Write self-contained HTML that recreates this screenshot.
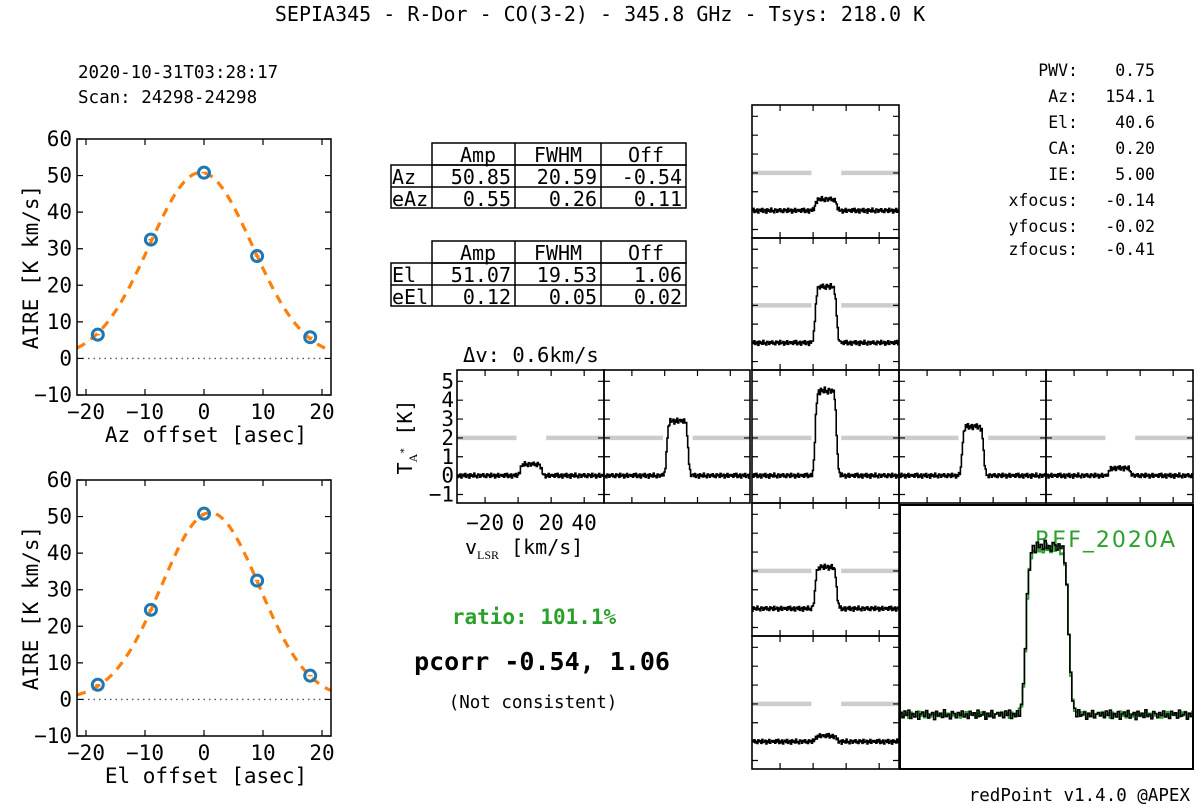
<!DOCTYPE html>
<html><head><meta charset="utf-8"><style>
html,body{margin:0;padding:0;background:#fff}
svg{display:block}
text{font-family:"DejaVu Sans Mono","Liberation Mono",monospace;fill:#000}
</style></head><body>
<svg id="s" width="1200" height="810" viewBox="0 0 1200 810" xmlns="http://www.w3.org/2000/svg">
<text x="600" y="21" font-size="20" text-anchor="middle">SEPIA345 - R-Dor - CO(3-2) - 345.8 GHz - Tsys: 218.0 K</text>
<text x="78" y="78" font-size="17.5">2020-10-31T03:28:17</text>
<text x="78" y="103" font-size="17.5">Scan: 24298-24298</text>
<g font-size="16.5">
<text x="1078" y="76" text-anchor="end">PWV:</text><text x="1155" y="76" text-anchor="end">0.75</text>
<text x="1078" y="102" text-anchor="end">Az:</text><text x="1155" y="102" text-anchor="end">154.1</text>
<text x="1078" y="128" text-anchor="end">El:</text><text x="1155" y="128" text-anchor="end">40.6</text>
<text x="1078" y="154" text-anchor="end">CA:</text><text x="1155" y="154" text-anchor="end">0.20</text>
<text x="1078" y="180" text-anchor="end">IE:</text><text x="1155" y="180" text-anchor="end">5.00</text>
<text x="1078" y="206" text-anchor="end">xfocus:</text><text x="1155" y="206" text-anchor="end">-0.14</text>
<text x="1078" y="232" text-anchor="end">yfocus:</text><text x="1155" y="232" text-anchor="end">-0.02</text>
<text x="1078" y="255" text-anchor="end">zfocus:</text><text x="1155" y="255" text-anchor="end">-0.41</text>
</g>
<g font-size="20" fill="none">
<rect x="432" y="143" width="254" height="22" fill="none" stroke="#000" stroke-width="1.5"/>
<rect x="391" y="165" width="295" height="43" fill="none" stroke="#000" stroke-width="1.5"/>
<path d="M391 187H686M432 165V208M515 143V208M601 143V208" stroke="#000" stroke-width="1.5"/>
<text x="478" y="162" text-anchor="middle">Amp</text><text x="558" y="162" text-anchor="middle">FWHM</text><text x="646" y="162" text-anchor="middle">Off</text>
<text x="392" y="184">Az</text><text x="511" y="184" text-anchor="end">50.85</text><text x="597" y="184" text-anchor="end">20.59</text><text x="682" y="184" text-anchor="end">-0.54</text>
<text x="392" y="206">eAz</text><text x="511" y="206" text-anchor="end">0.55</text><text x="597" y="206" text-anchor="end">0.26</text><text x="682" y="206" text-anchor="end">0.11</text>
</g>
<g font-size="20">
<rect x="432" y="241" width="254" height="22" fill="none" stroke="#000" stroke-width="1.5"/>
<rect x="391" y="263" width="295" height="43" fill="none" stroke="#000" stroke-width="1.5"/>
<path d="M391 285H686M432 263V306M515 241V306M601 241V306" stroke="#000" stroke-width="1.5"/>
<text x="478" y="260" text-anchor="middle">Amp</text><text x="558" y="260" text-anchor="middle">FWHM</text><text x="646" y="260" text-anchor="middle">Off</text>
<text x="392" y="282">El</text><text x="511" y="282" text-anchor="end">51.07</text><text x="597" y="282" text-anchor="end">19.53</text><text x="682" y="282" text-anchor="end">1.06</text>
<text x="392" y="304">eEl</text><text x="511" y="304" text-anchor="end">0.12</text><text x="597" y="304" text-anchor="end">0.05</text><text x="682" y="304" text-anchor="end">0.02</text>
</g>
<text x="534" y="624" font-size="21" font-weight="bold" text-anchor="middle" style="fill:#2ca02c">ratio: 101.1%</text>
<text x="542" y="670" font-size="25" font-weight="bold" text-anchor="middle">pcorr -0.54, 1.06</text>
<text x="533" y="708" font-size="17.5" text-anchor="middle">(Not consistent)</text>
<text x="1190" y="801" font-size="17.5" text-anchor="end">redPoint v1.4.0 @APEX</text>
<text x="463" y="362" font-size="20.5">Δv: 0.6km/s</text>
<text transform="translate(412,437) rotate(-90)" font-size="20" text-anchor="middle">T<tspan font-size="12" dy="5" font-family="Liberation Serif">A</tspan><tspan font-size="10" dy="-10">*</tspan><tspan dy="5">  [K]</tspan></text>
<text x="465" y="554" font-size="20">v<tspan font-size="12" dy="5" font-family="Liberation Serif">LSR</tspan><tspan dy="-5"> [km/s]</tspan></text>
<text x="1035" y="547" font-size="22" textLength="140" style="fill:#2ca02c;font-family:'DejaVu Sans','Liberation Sans',sans-serif">REF_2020A</text>
<g id="g"></g>
</svg>
<script>
// ---- Pointing data ----
const azOffsets = [-18, -9, 0, 9, 18];
const azAire = [6.5, 32.5, 50.8, 28.0, 5.8];
const elOffsets = [-18, -9, 0, 9, 18];
const elAire = [4.0, 24.5, 50.8, 32.5, 6.5];
const azFit = [50.85, 20.59, -0.54];
const elFit = [51.07, 19.53, 1.06];
const aireTicks = [60, 50, 40, 30, 20, 10, 0, -10];
const offsetTicks = [-20, -10, 0, 10, 20];
// ---- Spectra data: peak amplitude per grid position ----
const gridLabels = ['el+18', 'el+9', 'center', 'el-9', 'el-18', 'az-18', 'az-9', 'az+9', 'az+18'];
const gridAmps = [0.6, 3.0, 4.5, 2.2, 0.3, 0.6, 2.9, 2.6, 0.4];
const refAmp = 4.4;
const vTicks = [-20, 0, 20, 40];
const tTicks = [-1, 0, 1, 2, 3, 4, 5];
const noise = [0.05,-0.08,0.1,-0.02,0.12,-0.1,0.03,-0.06,0.08,-0.12,0.02,0.07,-0.04,0.11,-0.09,0.0,0.06,-0.13,0.09,-0.03,0.04,-0.07,0.13,-0.05,0.01,-0.11,0.08,0.03,-0.08,0.06,-0.02,0.1,-0.06,0.02,-0.1,0.09,-0.01,0.05,-0.09,0.12,-0.04,0.0,0.07,-0.12,0.04,-0.05,0.11,-0.08,0.02,0.06,-0.03];

const NS='http://www.w3.org/2000/svg';
const G=document.getElementById('g');
function mk(tag,attrs,parent){const e=document.createElementNS(NS,tag);for(const k in attrs)e.setAttribute(k,attrs[k]);(parent||G).appendChild(e);return e;}

function gauss(x,p){return p[0]*Math.exp(-4*Math.LN2*Math.pow((x-p[2])/p[1],2));}

function pointingPlot(name,top,xs,ys,fit,xlabel){
  const L=77,R=331,T=top,B=top+256;
  const sx=v=>204+(v)*5.9, sy=v=>T+(60-v)*(B-T)/70;
  const g=mk('g',{});
  
  
  mk('line',{x1:L,x2:R,y1:sy(0),y2:sy(0),stroke:'#555','stroke-width':1.3,'stroke-dasharray':'1.5,4'},g);
  let d='';for(let x=-21.5;x<=21.5;x+=0.25){d+=(d?'L':'M')+sx(x).toFixed(1)+' '+sy(gauss(x,fit)).toFixed(1);}
  const c=mk('path',{d:d,fill:'none',stroke:'#ff7f0e','stroke-width':3.2,'stroke-dasharray':'9,7'},g);
  
  
  xs.forEach((x,i)=>{
    const p=mk('circle',{cx:sx(x),cy:sy(ys[i]),r:5.5,fill:'none',stroke:'#1f77b4','stroke-width':3},g);
    
    
    mk('line',{x1:sx(x)-2.5,x2:sx(x)+2.5,y1:sy(ys[i]),y2:sy(ys[i]),stroke:'#ff7f0e','stroke-width':1.5},g);
  });
  mk('rect',{x:L,y:T,width:R-L,height:B-T,fill:'none',stroke:'#000','stroke-width':1.5},g);
  aireTicks.forEach(v=>{const y=sy(v);
    mk('path',{d:`M${L} ${y}h6M${R} ${y}h-6`,stroke:'#000','stroke-width':1.2},g);
    const t=mk('text',{x:L-5,y:y+7,'font-size':21,'text-anchor':'end'},g);t.textContent=v<0?'−'+(-v):v;});
  offsetTicks.forEach(v=>{const x=sx(v);
    mk('path',{d:`M${x} ${B}v-6M${x} ${T}v6`,stroke:'#000','stroke-width':1.2},g);
    const t=mk('text',{x:x,y:B+24,'font-size':21,'text-anchor':'middle'},g);t.textContent=v<0?'−'+(-v):v;});
  const xl=mk('text',{x:206,y:B+47,'font-size':21,'text-anchor':'middle'},g);xl.textContent=xlabel;
  const yl=mk('text',{transform:`translate(38,${(T+B)/2}) rotate(-90)`,'font-size':21,'text-anchor':'middle'},g);yl.textContent='AIRE [K km/s]';
}
pointingPlot('az-pointing-plot',139,azOffsets,azAire,azFit,'Az offset [asec]');
pointingPlot('el-pointing-plot',480,elOffsets,elAire,elFit,'El offset [asec]');

function profile(v){const e=(a,b)=>1/(1+Math.exp(-(v-a)/0.5))*1/(1+Math.exp((v-b)/0.5));return e(1,14);}
const V0=-37,V1=52,T0=-1.45,T1=5.6;
function spectrum(name,x,y,w,h,amp,off,ticks,labels){
  const sx=v=>x+(v-V0)*w/(V1-V0), sy=t=>y+(T1-t)*h/(T1-T0);
  const g=mk('g',{});
  
  
  mk('path',{d:`M${x} ${sy(2)}H${sx(-1)}M${sx(17)} ${sy(2)}H${x+w}`,stroke:'#cccccc','stroke-width':4.5},g);
  let d='';let k=0;
  for(let v=V0;v<V1;v+=0.6,k++){
    const t=amp*profile(v)+noise[(k+off)%noise.length]*(1+0.1*amp*profile(v));
    d+=(d?'H'+sx(v).toFixed(1)+'V':'M'+sx(v).toFixed(1)+' ')+sy(t).toFixed(1);
  }
  d+='H'+(x+w);
  const s=mk('path',{d:d,fill:'none',stroke:'#000','stroke-width':1.6},g);
  
  
  mk('rect',{x:x,y:y,width:w,height:h,fill:'none',stroke:'#000','stroke-width':1.6},g);
  if(ticks){
    vTicks.forEach(v=>{const X=sx(v);mk('path',{d:`M${X} ${y}v6M${X} ${y+h}v-6`,stroke:'#000','stroke-width':1.2},g);});
    tTicks.forEach(t=>{const Y=sy(t);mk('path',{d:`M${x} ${Y}h6M${x+w} ${Y}h-6`,stroke:'#000','stroke-width':1.2},g);});
  }
  if(labels){
    tTicks.forEach(t=>{const tx=mk('text',{x:x-3,y:sy(t)+7,'font-size':21,'text-anchor':'end'},g);tx.textContent=t<0?'−'+(-t):t;});
    vTicks.forEach(v=>{const tx=mk('text',{x:sx(v),y:y+h+27,'font-size':21,'text-anchor':'middle'},g);tx.textContent=v<0?'−'+(-v):v;});
  }
  return {g,sx,sy};
}
const cx=752,cw=147,rh=133;
const rowsY=[105,238,370,503,636];
spectrum('spectrum-'+gridLabels[0],cx,rowsY[0],cw,rh,gridAmps[0],3,true);
spectrum('spectrum-'+gridLabels[1],cx,rowsY[1],cw,rh-1,gridAmps[1],11,true);
spectrum('spectrum-'+gridLabels[3],cx,rowsY[3],cw,rh,gridAmps[3],17,true);
spectrum('spectrum-'+gridLabels[4],cx,rowsY[4],cw,rh,gridAmps[4],29,true);
spectrum('spectrum-'+gridLabels[5],457,370,cw,rh,gridAmps[5],5,true,true);
spectrum('spectrum-'+gridLabels[6],604,370,cw-1,rh,gridAmps[6],23,true);
spectrum('spectrum-'+gridLabels[7],899,370,cw,rh,gridAmps[7],37,true);
spectrum('spectrum-'+gridLabels[8],1046,370,cw,rh,gridAmps[8],41,true);
spectrum('spectrum-'+gridLabels[2],cx,370,cw,rh,gridAmps[2],0,true);
(function(){
  const x=900,y=505,w=293,h=264;
  const sx=v=>x+(v-V0)*w/(V1-V0), sy=t=>y+(T1-t)*h/(T1-T0);
  const g=mk('g',{});
  
  
  let d='';let k=0;
  for(let v=V0;v<V1;v+=0.6,k++){const t=refAmp*profile(v)+noise[(k+13)%noise.length]*0.7;d+=(d?'H'+sx(v).toFixed(1)+'V':'M'+sx(v).toFixed(1)+' ')+sy(t).toFixed(1);}
  const r=mk('path',{d:d,fill:'none',stroke:'#2ca02c','stroke-width':1.8},g);
  
  
  d='';k=0;
  for(let v=V0;v<V1;v+=0.6,k++){const t=gridAmps[2]*profile(v)+noise[k%noise.length]*(1+0.2*profile(v));d+=(d?'H'+sx(v).toFixed(1)+'V':'M'+sx(v).toFixed(1)+' ')+sy(t).toFixed(1);}
  const s=mk('path',{d:d,fill:'none',stroke:'#000','stroke-width':1.6},g);
  
  
  mk('rect',{x:x,y:y,width:w,height:h,fill:'none',stroke:'#000','stroke-width':2},g);
})();
</script>
</body></html>
